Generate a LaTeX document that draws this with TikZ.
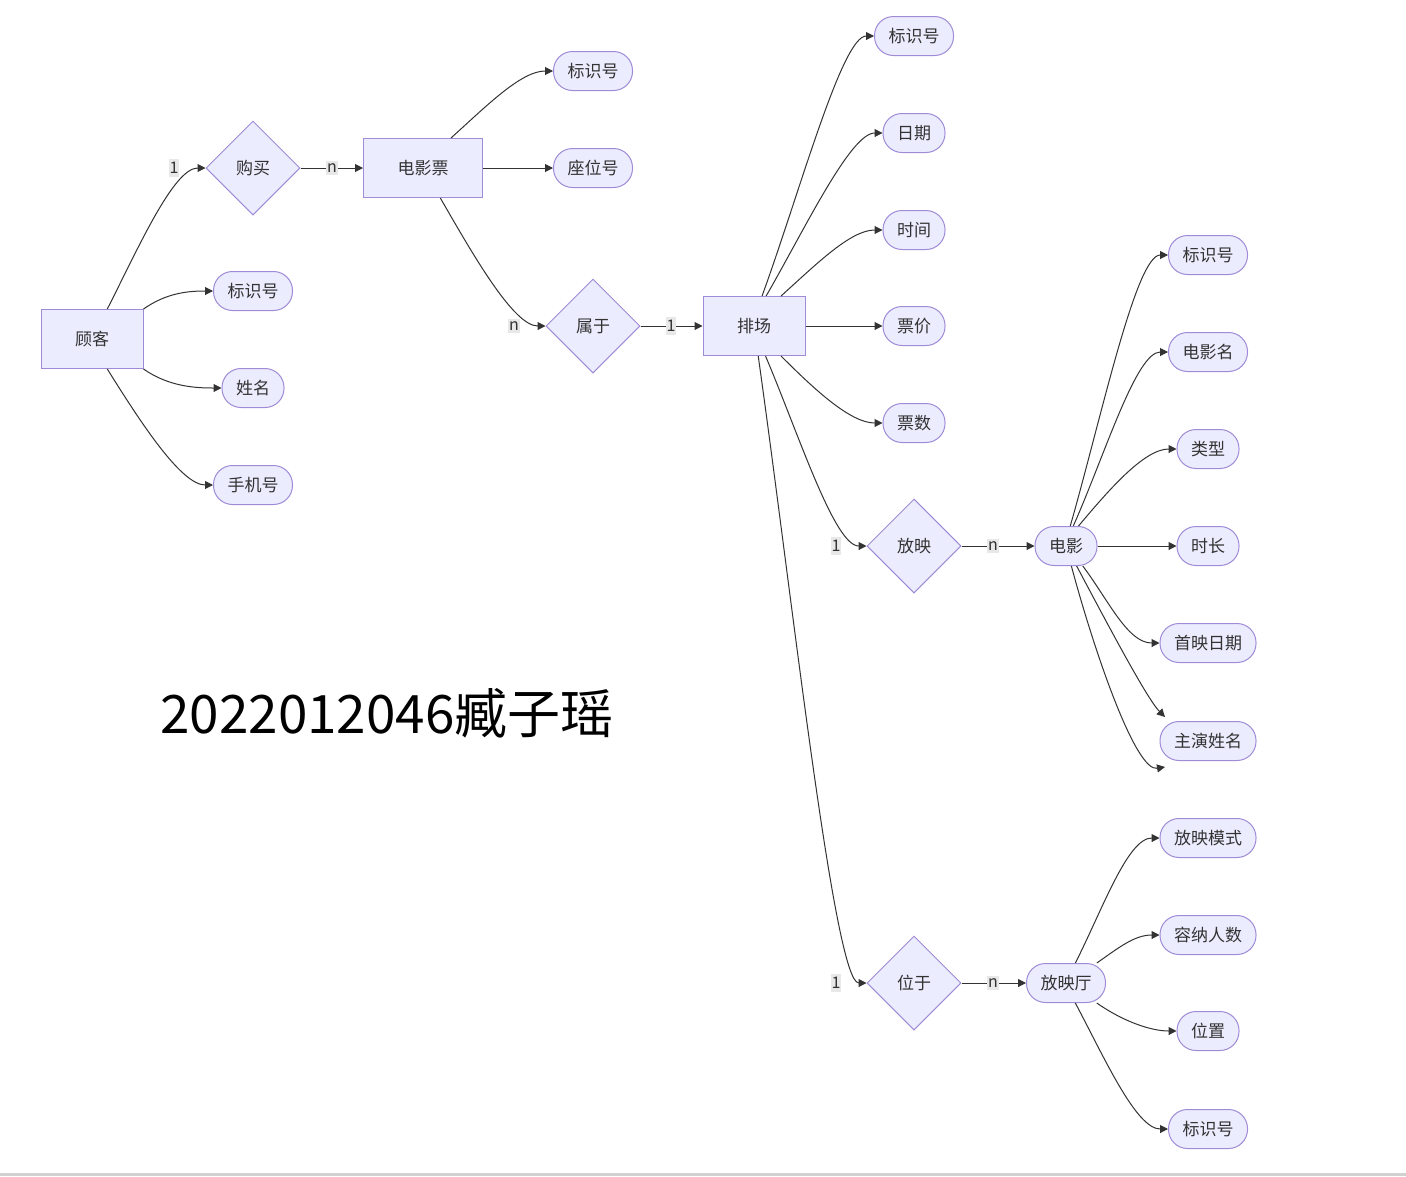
\documentclass[tikz,border=0pt]{standalone}
\usepackage{fontspec}
\newfontfamily\cjk{Noto Sans CJK SC}
\usetikzlibrary{shapes.geometric,arrows.meta}

\definecolor{boxfill}{HTML}{ECECFF}
\definecolor{boxline}{HTML}{9F8BD6}
\definecolor{ink}{HTML}{333333}
\definecolor{lblfill}{HTML}{E8E8E8}

\tikzstyle{ent} = [style={rectangle,draw=boxline,fill=boxfill,line width=1pt,minimum height=59pt,inner xsep=34pt,text=ink,font=\cjk\fontsize{17}{17}\selectfont}]
\tikzstyle{att} = [style={rectangle,rounded corners=19pt,draw=boxline,fill=boxfill,line width=1pt,minimum height=39pt,inner xsep=14pt,text=ink,font=\cjk\fontsize{17}{17}\selectfont}]
\tikzstyle{rel} = [style={diamond,aspect=1,draw=boxline,fill=boxfill,line width=1pt,minimum size=94pt,inner sep=0pt,text=ink,font=\cjk\fontsize{17}{17}\selectfont}]
\tikzstyle{lbl} = [style={fill=lblfill,inner xsep=1pt,inner ysep=3pt,text=ink,font=\cjk\fontsize{16}{16}\selectfont}]
\tikzstyle{arr} = [style={-{Triangle[length=8pt,width=8pt]},draw=ink,line width=1pt,in=180,in distance=32pt}]
\newcommand*{\colA}{253}
\newcommand*{\colB}{914}
\newcommand*{\colC}{1208}

\begin{document}
\begin{tikzpicture}[x=1pt,y=1pt]
\useasboundingbox (0,0) rectangle (1406,-1176);
\fill[white] (0,0) rectangle (1406,-1176);
\fill[black!18] (0,-1173) rectangle (1406,-1176);

%% entities
\node [ent] (guke) at (92,-339) {顾客};
\node [ent] (piao) at (423,-168) {电影票};
\node [ent] (changci) at (754,-326) {排场};
\node [att] (dianying) at (1066,-546) {电影};
\node [att] (ting) at (1066,-983) {放映厅};

%% relations
\node [rel] (goumai) at (\colA,-168) {购买};
\node [rel] (shuyu) at (593,-326) {属于};
\node [rel] (fangying) at (\colB,-546) {放映};
\node [rel] (weiyu) at (\colB,-983) {位于};

%% attributes
\foreach \n/\y/\t in {1/291/标识号,2/388/姓名,3/485/手机号}
  {\node [att] (g\n) at (\colA,-\y) {\t};}
\foreach \n/\y/\t in {1/71/标识号,2/168/座位号}
  {\node [att] (t\n) at (593,-\y) {\t};}
\foreach \n/\y/\t in {1/36/标识号,2/133/日期,3/230/时间,4/326/票价,5/423/票数}
  {\node [att] (c\n) at (\colB,-\y) {\t};}
\foreach \n/\y/\t in {1/255/标识号,2/352/电影名,3/449/类型,4/546/时长,5/643/首映日期,6/741/主演姓名}
  {\node [att] (d\n) at (\colC,-\y) {\t};}
\foreach \n/\y/\t in {1/838/放映模式,2/935/容纳人数,3/1031/位置,4/1129/标识号}
  {\node [att] (h\n) at (\colC,-\y) {\t};}

\coordinate (z1) at (1165,-717);
\coordinate (z2) at (1165,-767);

%% 顾客
\draw [arr] (guke.63) to[out=63] (goumai.west);
\draw [arr] (guke.north east) to[out=35,in distance=25pt] (g1.west);
\draw [arr] (guke.south east) to[out=-35,in distance=25pt] (g2.west);
\draw [arr] (guke.-63) to[out=-58] (g3.west);
\draw [arr] (goumai.east) -- (piao.west);

%% 电影票
\draw [arr] (piao.47) to[out=42] (t1.west);
\draw [arr] (piao.east) -- (t2.west);
\draw [arr] (piao.-60) to[out=-60] (shuyu.west);
\draw [arr] (shuyu.east) -- (changci.west);

%% 排场
\draw [arr] (changci.75) to[out=70] (c1.west);
\draw [arr] (changci.68) to[out=60] (c2.west);
\draw [arr] (changci.48) to[out=42] (c3.west);
\draw [arr] (changci.east) -- (c4.west);
\draw [arr] (changci.-48) to[out=-45] (c5.west);
\draw [arr] (changci.-69) to[out=-67] (fangying.west);
\draw [arr] (changci.-82) to[out=-82] (weiyu.west);
\draw [arr] (fangying.east) -- (dianying.west);
\draw [arr] (weiyu.east) -- (ting.west);

%% 电影
\draw [arr] (dianying.78) to[out=74] (d1.west);
\draw [arr] (dianying.70) to[out=66] (d2.west);
\draw [arr] (dianying.58) to[out=50] (d3.west);
\draw [arr] (dianying.east) -- (d4.west);
\draw [arr] (dianying.-50) to[out=-53] (d5.west);
\draw [arr] (dianying.-62) to[out=-62,in=135,in distance=25pt] (z1);
\draw [arr] (dianying.-75) to[out=-75,in=190,in distance=30pt] (z2);

%% 放映厅
\draw [arr] (ting.65) to[out=63] (h1.west);
\draw [arr] (ting.33) to[out=35,in distance=25pt] (h2.west);
\draw [arr] (ting.-33) to[out=-35,in distance=25pt] (h3.west);
\draw [arr] (ting.-65) to[out=-62] (h4.west);

%% cardinality
\node [lbl] (l1) at (174,-168) {1};
\node [lbl] (l2) at (332,-168) {n};
\node [lbl] (l3) at (514,-326) {n};
\node [lbl] (l4) at (671,-326) {1};
\node [lbl] (l5) at (836,-546) {1};
\node [lbl] (l6) at (993,-546) {n};
\node [lbl] (l7) at (836,-983) {1};
\node [lbl] (l8) at (993,-983) {n};

%% title
\node [text=black,font=\cjk\fontsize{53}{53}\selectfont] (title) at (387,-713) {2022012046臧子瑶};

\end{tikzpicture}
\end{document}
